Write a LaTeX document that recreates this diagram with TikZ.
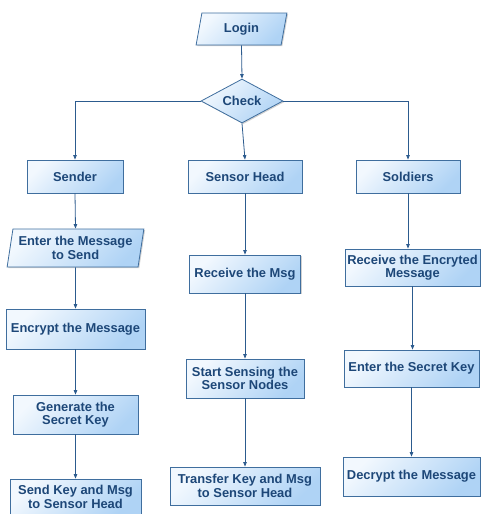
\documentclass[tikz,border=0pt]{standalone}
\usepackage{fontspec}
\setmainfont{Liberation Sans}
\usetikzlibrary{shapes.geometric,arrows.meta,shadows}
\definecolor{bord}{HTML}{3F6E9E}
\definecolor{txt}{HTML}{1D4778}
\definecolor{lnk}{HTML}{2C5B8E}
\definecolor{fillA}{HTML}{F2F8FE}
\definecolor{fillB}{HTML}{AFD3F5}
\begin{document}
\begin{tikzpicture}[x=1pt,y=-1pt,
  base/.style={draw=bord, line width=0.8pt, top color=fillA, bottom color=fillB, shading angle=45,
    text=txt, font=\fontsize{12.9}{13.5}\selectfont\bfseries, align=center, inner sep=0pt,
    drop shadow={shadow xshift=1.2pt, shadow yshift=-1.2pt, opacity=0.18, fill=black}},
  box/.style={base, rectangle},
  para/.style={base, trapezium, trapezium left angle=#1, trapezium right angle=180-#1, trapezium stretches=true},
  dec/.style={base, diamond, aspect=1.86},
  arr/.style={draw=lnk, line width=0.8pt, -{Triangle[length=4.5pt,width=3.5pt]}}
]
\useasboundingbox (0,0) rectangle (480,514);

\node[para=78, minimum width=91pt, minimum height=32pt] (login) at (241.5,29) {Login};
\node[dec, minimum width=82pt, minimum height=44pt] (check) at (242,101) {Check};

\node[box, minimum width=96pt, minimum height=33pt] (sender) at (75,176.5) {Sender};
\node[box, minimum width=114pt, minimum height=33pt] (sensor) at (245,176.5) {Sensor Head};
\node[box, minimum width=104pt, minimum height=33pt] (soldiers) at (408,176.5) {Soldiers};

\node[para=77, minimum width=137pt, minimum height=38pt] (entermsg) at (75.5,248) {Enter the Message\\to Send};
\node[box, minimum width=139pt, minimum height=40pt] (encrypt) at (75.5,329) {Encrypt the Message};
\node[box, minimum width=125pt, minimum height=39pt] (generate) at (75.5,414.5) {Generate the\\Secret Key};
\node[box, minimum width=131pt, minimum height=36pt] (sendkey) at (75.5,497) {Send Key and Msg\\to Sensor Head};

\node[box, minimum width=111pt, minimum height=38pt] (recvmsg) at (245,274) {Receive the Msg};
\node[box, minimum width=118pt, minimum height=39pt] (sensing) at (245,378.5) {Start Sensing the\\Sensor Nodes};
\node[box, minimum width=150pt, minimum height=38pt] (transfer) at (245,486) {Transfer Key and Msg\\to Sensor Head};

\node[box, minimum width=135pt, minimum height=37pt] (recvenc) at (412.5,267.5) {Receive the Encryted\\Message};
\node[box, minimum width=135pt, minimum height=37pt] (enterkey) at (411.5,368.5) {Enter the Secret Key};
\node[box, minimum width=137pt, minimum height=39pt] (decrypt) at (411.5,476.5) {Decrypt the Message};

\draw[arr] (login.south) -- (check.north);
\draw[arr] (check.west) -| (sender.north);
\draw[arr] (check.east) -| (soldiers.north);
\draw[arr] (check.south) -- (sensor.north);

\draw[arr] (sender.south) -- (entermsg.north);
\draw[arr] (entermsg.south) -- (encrypt.north);
\draw[arr] (encrypt.south) -- (generate.north);
\draw[arr] (generate.south) -- (sendkey.north);

\draw[arr] (sensor.south) -- (recvmsg.north);
\draw[arr] (recvmsg.south) -- (sensing.north);
\draw[arr] (sensing.south) -- (transfer.north);

\draw[arr] (soldiers.south) -- (soldiers.south |- recvenc.north);
\draw[arr] (recvenc.south) -- (recvenc.south |- enterkey.north);
\draw[arr] (enterkey.south) -- (enterkey.south |- decrypt.north);
\end{tikzpicture}
\end{document}
